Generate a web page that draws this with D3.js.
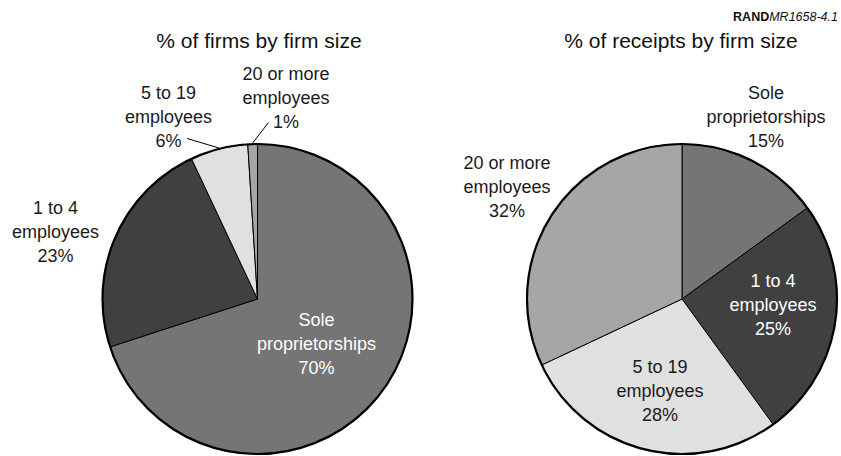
<!DOCTYPE html>
<html>
<head>
    <title>Firms and receipts by firm size</title>
    <script src="https://d3js.org/d3.v7.min.js"></script>
    <style>
        body { margin: 0; background: #fff; }
        svg text { font-family: "Liberation Sans", Arial, Helvetica, sans-serif; }
    </style>
</head>
<body>
<svg id="chart" width="841" height="456"></svg>
<script>
    // Data
    var categories = ['Sole proprietorships', '1 to 4 employees', '5 to 19 employees', '20 or more employees'];
    var firmsPct = [70, 23, 6, 1];
    var receiptsPct = [15, 25, 28, 32];
    var labelLines = [['Sole', 'proprietorships'], ['1 to 4', 'employees'], ['5 to 19', 'employees'], ['20 or more', 'employees']];
    var titles = ['% of firms by firm size', '% of receipts by firm size'];

    // Layout (positions / styles)
    var fills = ['#757575', '#404040', '#e0e0e0', '#a6a6a6'];
    var radius = 155;
    var lineGap = 24;
    var pies = [
        {cx: 257.5, cy: 299, values: firmsPct, title: titles[0], titleX: 259,
         // label anchor offsets (middle line baseline) from the centre, inside flag, leader line start
         labels: [
            {dx: 59, dy: 51, inside: true},
            {dx: -202, dy: -61, inside: false},
            {dx: -89, dy: -176, inside: false, leader: [-70.5, -160.5]},
            {dx: 28.5, dy: -195, inside: false, leader: [11, -176.5]}
         ]},
        {cx: 682, cy: 299, values: receiptsPct, title: titles[1], titleX: 681,
         labels: [
            {dx: 84, dy: -176, inside: false},
            {dx: 91, dy: 12, inside: true},
            {dx: -22, dy: 98, inside: false},
            {dx: -175, dy: -106, inside: false}
         ]}
    ];

    var svg = d3.select('#chart');

    // Credit line top right
    var credit = svg.append('text')
        .attr('x', 838).attr('y', 20.5)
        .attr('text-anchor', 'end')
        .style('font-size', '12.5px')
        .attr('fill', '#111');
    credit.append('tspan').style('font-weight', 'bold').text('RAND');
    credit.append('tspan').style('font-style', 'italic').text('MR1658-4.1');

    var pie = d3.pie().sort(null).value(function(d) { return d; });
    var arc = d3.arc().innerRadius(0).outerRadius(radius);

    pies.forEach(function(p) {
        svg.append('text')
            .attr('x', p.titleX).attr('y', 48)
            .attr('text-anchor', 'middle')
            .style('font-size', '21px')
            .attr('fill', '#111')
            .text(p.title);

        var g = svg.append('g').attr('transform', 'translate(' + p.cx + ',' + p.cy + ')');
        var arcs = pie(p.values);

        g.selectAll('path.slice')
            .data(arcs)
            .enter().append('path')
            .attr('class', 'slice')
            .attr('d', arc)
            .attr('fill', function(d, i) { return fills[i]; })
            .attr('stroke', '#000')
            .attr('stroke-width', 1)
            .attr('stroke-linejoin', 'round');

        g.append('circle')
            .attr('r', radius)
            .attr('fill', 'none')
            .attr('stroke', '#000')
            .attr('stroke-width', 2.2);

        // leader lines go from the label to the slice's mid angle on the rim
        arcs.forEach(function(d, i) {
            var lab = p.labels[i];
            if (!lab.leader) return;
            var a = (d.startAngle + d.endAngle) / 2;
            g.append('line')
                .attr('x1', lab.leader[0]).attr('y1', lab.leader[1])
                .attr('x2', Math.sin(a) * (radius + 1)).attr('y2', -Math.cos(a) * (radius + 1))
                .attr('stroke', '#000')
                .attr('stroke-width', 1);
        });

        arcs.forEach(function(d, i) {
            var lab = p.labels[i];
            var lines = labelLines[i].concat([p.values[i] + '%']);
            var t = g.append('text')
                .attr('text-anchor', 'middle')
                .style('font-size', '18px')
                .attr('fill', lab.inside ? '#fff' : '#1a1a1a');
            lines.forEach(function(s, k) {
                t.append('tspan')
                    .attr('x', lab.dx)
                    .attr('y', lab.dy + (k - 1) * lineGap)
                    .text(s);
            });
        });
    });
</script>
</body>
</html>
